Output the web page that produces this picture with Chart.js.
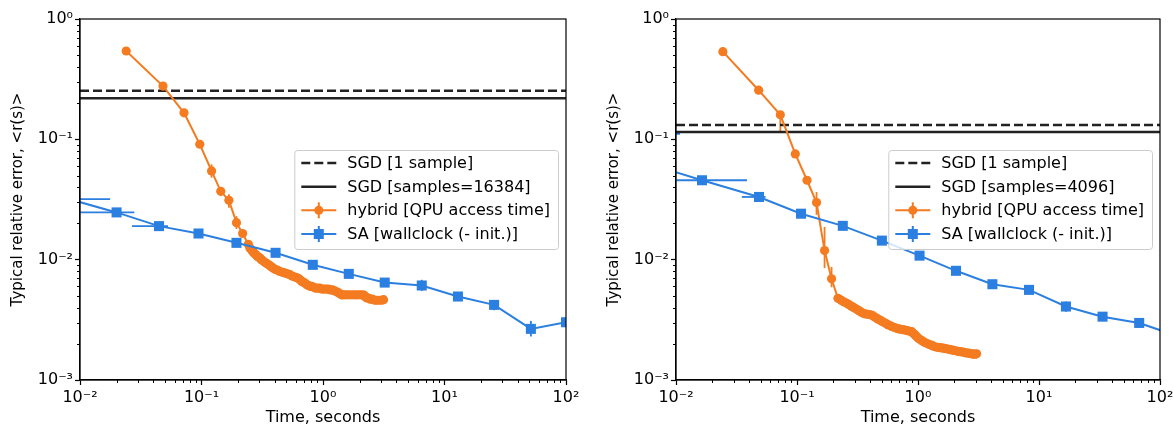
<!DOCTYPE html>
<html>
<head>
<meta charset="utf-8">
<script src="https://cdn.jsdelivr.net/npm/chart.js@4.4.1/dist/chart.umd.min.js"></script>
<style>
  html, body { margin: 0; padding: 0; background: #fff; }
  #wrap { position: relative; width: 1174px; height: 425px; }
  canvas { position: absolute; top: 0; }
</style>
</head>
<body>
<div id="wrap">
  <canvas id="left" width="587" height="425" style="left:0"></canvas>
  <canvas id="right" width="587" height="425" style="left:587px"></canvas>
</div>
<script>
// axis ticks
const xTickVals = [0.01, 0.1, 1, 10, 100];
const xTickLabels = ['10⁻²', '10⁻¹', '10⁰', '10¹', '10²'];
const yTickVals = [0.001, 0.01, 0.1, 1];
const yTickLabels = ['10⁻³', '10⁻²', '10⁻¹', '10⁰'];

// left panel
const leftSgdOne = 0.2535;
const leftSgdMany = 0.219;
const leftHybridX = [0.024, 0.0482, 0.0718, 0.0968, 0.121, 0.144, 0.168, 0.194, 0.218, 0.243,
  0.250, 0.259, 0.266, 0.272, 0.280, 0.287, 0.295, 0.303, 0.311, 0.320, 0.332, 0.344, 0.355, 0.366,
  0.378, 0.390, 0.405, 0.420, 0.438, 0.457, 0.476, 0.495, 0.515, 0.535, 0.557, 0.580, 0.603, 0.627,
  0.647, 0.668, 0.690, 0.711, 0.735, 0.760, 0.783, 0.807, 0.838, 0.870, 0.905, 0.944, 0.98, 1.02,
  1.06, 1.106, 1.15, 1.20, 1.25, 1.297, 1.34, 1.38, 1.42, 1.469, 1.53, 1.60, 1.69, 1.778, 1.86,
  1.95, 2.05, 2.15, 2.20, 2.25, 2.30, 2.36, 2.45, 2.55, 2.66, 2.77, 2.90, 3.04, 3.15];
const leftHybridY = [0.542, 0.277, 0.166, 0.091, 0.0546, 0.037, 0.0311, 0.0203, 0.0165, 0.0134,
  0.0125, 0.0120, 0.0116, 0.0113, 0.0110, 0.0107, 0.0105, 0.0103, 0.0100, 0.0098, 0.0095, 0.0093, 0.0091, 0.0089,
  0.0087, 0.0085, 0.0083, 0.0082, 0.0080, 0.0079, 0.0078, 0.0077, 0.0076, 0.0075, 0.0073, 0.0072, 0.0071, 0.0070,
  0.0068, 0.0066, 0.0065, 0.0064, 0.0062, 0.0061, 0.0060, 0.0060, 0.0059, 0.0058, 0.0058, 0.0058, 0.0057, 0.0057,
  0.0057, 0.0057, 0.0056, 0.0056, 0.0055, 0.0054, 0.0053, 0.0052, 0.0051, 0.0051, 0.0051, 0.0051, 0.0051, 0.0051, 0.0051,
  0.0051, 0.0051, 0.0051, 0.0050, 0.0049, 0.0048, 0.0048, 0.0047, 0.0047, 0.0046, 0.0046, 0.0046, 0.0046, 0.00465];
const leftSaX = [0.0081, 0.0200, 0.0447, 0.0945, 0.194, 0.407, 0.824, 1.63, 3.22, 6.50, 12.9, 25.6, 51.4, 100];
const leftSaY = [0.0319, 0.0247, 0.0190, 0.0165, 0.0138, 0.0114, 0.00906, 0.00762, 0.00645, 0.0061, 0.00494, 0.00421, 0.00266, 0.00302];
const leftHybridYErr = [[0.121, 0.048, 0.062], [0.144, 0.034, 0.040], [0.168, 0.027, 0.035], [0.194, 0.018, 0.023]];
const leftSaXErr = [[0.0319, 0.004, 0.0177], [0.0247, 0.006, 0.0280], [0.0190, 0.0268, 0.053]];
const leftSaYErr = [[6.5, 0.0055, 0.0068], [25.6, 0.0038, 0.0046], [51.4, 0.0023, 0.0031]];

// right panel
const rightSgdOne = 0.1315;
const rightSgdMany = 0.115;
const rightHybridX = [0.0244, 0.0482, 0.0728, 0.0968, 0.121, 0.145, 0.169, 0.193, 0.218,
  0.227, 0.235, 0.246, 0.258, 0.269, 0.280, 0.291, 0.302, 0.315, 0.328, 0.340, 0.353, 0.366, 0.380,
  0.397, 0.414, 0.430, 0.445, 0.465, 0.485, 0.505, 0.525, 0.547, 0.569, 0.592, 0.615, 0.640, 0.667,
  0.693, 0.720, 0.750, 0.782, 0.82, 0.855, 0.887, 0.918, 0.950, 0.978, 1.007, 1.05, 1.09, 1.13,
  1.18, 1.23, 1.28, 1.33, 1.38, 1.44, 1.50, 1.56, 1.62, 1.69, 1.76, 1.83, 1.90, 1.97, 2.05, 2.13,
  2.22, 2.31, 2.40, 2.50, 2.61, 2.70, 2.78, 2.87, 2.96, 3.05];
const rightHybridY = [0.535, 0.256, 0.160, 0.0757, 0.0457, 0.0298, 0.0119, 0.00693, 0.00478,
  0.00466, 0.00455, 0.00445, 0.00434, 0.00423, 0.00412, 0.00403, 0.00394, 0.00384, 0.00375, 0.00366, 0.00358, 0.00355, 0.00352,
  0.00350, 0.00347, 0.00338, 0.00330, 0.00322, 0.00315, 0.00307, 0.00300, 0.00293, 0.00287, 0.00282, 0.00277, 0.00273, 0.00269,
  0.00266, 0.00264, 0.00262, 0.00260, 0.00257, 0.00254, 0.00252, 0.00244, 0.00236, 0.00229, 0.00222, 0.00216, 0.00211, 0.00206,
  0.00202, 0.00198, 0.00195, 0.00192, 0.00189, 0.00187, 0.00186, 0.00185, 0.00184, 0.00182, 0.00181, 0.00179, 0.00178, 0.00176, 0.00175, 0.00173,
  0.00172, 0.00171, 0.00170, 0.00168, 0.00167, 0.00166, 0.00165, 0.00164, 0.00164, 0.00165];
const rightSaX = [0.00095, 0.0164, 0.0485, 0.108, 0.239, 0.503, 1.03, 2.06, 4.12, 8.27, 16.7, 33.5, 67.3, 135];
const rightSaY = [0.111, 0.0457, 0.0332, 0.0241, 0.0191, 0.0144, 0.0108, 0.00808, 0.00625, 0.00561, 0.00408, 0.00336, 0.00298, 0.00234];
const rightHybridYErr = [[0.0728, 0.117, 0.17], [0.145, 0.0236, 0.0365], [0.169, 0.0085, 0.0187], [0.193, 0.0059, 0.0087], [0.49, 0.0029, 0.0034], [0.52, 0.0029, 0.0033]];
const rightSaXErr = [[0.111, 0.0005, 0.0108], [0.0457, 0.005, 0.0386], [0.0332, 0.035, 0.055]];
const rightSaYErr = [[16.7, 0.0037, 0.0045]];

const legendLabels = {
  left: ['SGD [1 sample]', 'SGD [samples=16384]', 'hybrid [QPU access time]', 'SA [wallclock (- init.)]'],
  right: ['SGD [1 sample]', 'SGD [samples=4096]', 'hybrid [QPU access time]', 'SA [wallclock (- init.)]']
};

const orange = '#f47b20';
const blue = '#2b7fe0';
const dark = '#222222';
const fontFam = '"DejaVu Sans", sans-serif';

Chart.defaults.font.family = fontFam;
Chart.defaults.color = '#000';

const panels = {
  left: {hybridErr: leftHybridYErr, saXErr: leftSaXErr, saYErr: leftSaYErr},
  right: {hybridErr: rightHybridYErr, saXErr: rightSaXErr, saYErr: rightSaYErr}
};

function pts(xs, ys) {
  return xs.map((x, i) => ({x: x, y: ys[i]}));
}

function seg(ctx, x1, y1, x2, y2) {
  ctx.beginPath();
  ctx.moveTo(x1, y1);
  ctx.lineTo(x2, y2);
  ctx.stroke();
}

const panelDecor = {
  id: 'panelDecor',
  beforeDatasetsDraw(chart) {
    const p = panels[chart.canvas.id];
    const ctx = chart.ctx, a = chart.chartArea;
    const xs = chart.scales.x, ys = chart.scales.y;
    ctx.save();
    ctx.beginPath();
    ctx.rect(a.left, a.top, a.right - a.left, a.bottom - a.top);
    ctx.clip();
    ctx.lineWidth = 1.8;
    ctx.strokeStyle = orange;
    p.hybridErr.forEach(([x, lo, hi]) => {
      const px = xs.getPixelForValue(x);
      seg(ctx, px, ys.getPixelForValue(lo), px, ys.getPixelForValue(hi));
    });
    ctx.strokeStyle = blue;
    p.saYErr.forEach(([x, lo, hi]) => {
      const px = xs.getPixelForValue(x);
      seg(ctx, px, ys.getPixelForValue(lo), px, ys.getPixelForValue(hi));
    });
    p.saXErr.forEach(([y, lo, hi]) => {
      const py = ys.getPixelForValue(y);
      seg(ctx, xs.getPixelForValue(lo), py, xs.getPixelForValue(hi), py);
    });
    ctx.restore();
  },
  afterDatasetsDraw(chart) {
    const ctx = chart.ctx, a = chart.chartArea;
    const xs = chart.scales.x, ys = chart.scales.y;
    ctx.save();
    ctx.strokeStyle = '#000';
    ctx.lineWidth = 1;
    // minor ticks
    for (let d = -2; d <= 1; d++) {
      for (let k = 2; k <= 9; k++) {
        const px = Math.round(xs.getPixelForValue(k * Math.pow(10, d))) + 0.5;
        seg(ctx, px, a.bottom, px, a.bottom + 3);
      }
    }
    for (let d = -3; d <= -1; d++) {
      for (let k = 2; k <= 9; k++) {
        const py = Math.round(ys.getPixelForValue(k * Math.pow(10, d))) + 0.5;
        seg(ctx, a.left - 3, py, a.left, py);
      }
    }
    // frame
    ctx.lineWidth = 1.2;
    ctx.strokeRect(a.left, a.top, a.right - a.left, a.bottom - a.top);
    ctx.restore();
  },
  afterDraw(chart) {
    const labels = legendLabels[chart.canvas.id];
    const ctx = chart.ctx, a = chart.chartArea;
    ctx.save();
    ctx.font = '16px ' + fontFam;
    const tw = Math.max(...labels.map(l => ctx.measureText(l).width));
    const w = 53 + tw + 8, h = 99;
    const x0 = a.right - 8 - w, y0 = (a.top + a.bottom) / 2 - h / 2;
    ctx.fillStyle = 'rgba(255,255,255,0.8)';
    ctx.strokeStyle = '#cccccc';
    ctx.lineWidth = 1;
    ctx.beginPath();
    ctx.roundRect(x0 + 0.5, y0 + 0.5, w, h, 3);
    ctx.fill();
    ctx.stroke();
    const rows = [13, 36.7, 60.3, 84];
    const sx1 = x0 + 7, sx2 = x0 + 42, mx = x0 + 24.5;
    // dashed
    ctx.strokeStyle = dark;
    ctx.lineWidth = 2.5;
    ctx.setLineDash([9, 4]);
    seg(ctx, sx1, y0 + rows[0], sx2, y0 + rows[0]);
    ctx.setLineDash([]);
    seg(ctx, sx1, y0 + rows[1], sx2, y0 + rows[1]);
    // hybrid
    let yy = y0 + rows[2];
    ctx.strokeStyle = orange;
    ctx.fillStyle = orange;
    ctx.lineWidth = 2;
    seg(ctx, sx1, yy, sx2, yy);
    seg(ctx, mx, yy - 8, mx, yy + 8);
    ctx.beginPath();
    ctx.arc(mx, yy, 4.5, 0, Math.PI * 2);
    ctx.fill();
    // SA
    yy = y0 + rows[3];
    ctx.strokeStyle = blue;
    ctx.fillStyle = blue;
    seg(ctx, sx1, yy, sx2, yy);
    seg(ctx, mx, yy - 8, mx, yy + 8);
    ctx.fillRect(mx - 5, yy - 5, 10, 10);
    // text
    ctx.fillStyle = '#000';
    ctx.textBaseline = 'middle';
    ctx.textAlign = 'left';
    labels.forEach((l, i) => ctx.fillText(l, x0 + 53, y0 + rows[i] + 1));
    ctx.restore();
  }
};

function makePanel(id, sgdOne, sgdMany, hx, hy, sx, sy, padLeft, padRight) {
  return new Chart(document.getElementById(id), {
    type: 'line',
    data: {
      datasets: [{
        label: 'SGD [1 sample]',
        data: [{x: 0.01, y: sgdOne}, {x: 100, y: sgdOne}],
        borderColor: dark,
        borderWidth: 2.5,
        borderDash: [9, 4],
        pointRadius: 0,
        order: 3,
      }, {
        label: 'SGD [samples]',
        data: [{x: 0.01, y: sgdMany}, {x: 100, y: sgdMany}],
        borderColor: dark,
        borderWidth: 2.5,
        pointRadius: 0,
        order: 2,
      }, {
        label: 'hybrid [QPU access time]',
        data: pts(hx, hy),
        borderColor: orange,
        backgroundColor: orange,
        borderWidth: 2,
        pointStyle: 'circle',
        pointRadius: 4.6,
        pointBorderWidth: 0,
        order: 1,
      }, {
        label: 'SA [wallclock (- init.)]',
        data: pts(sx, sy),
        borderColor: blue,
        backgroundColor: blue,
        borderWidth: 2,
        pointStyle: 'rect',
        pointRadius: 7.1,
        pointBorderWidth: 0,
        order: 0,
      }]
    },
    options: {
      responsive: false,
      animation: false,
      devicePixelRatio: 1,
      clip: 0,
      layout: {padding: {left: padLeft, right: padRight, top: 19, bottom: 0}},
      plugins: {legend: {display: false}, tooltip: {enabled: false}},
      elements: {line: {tension: 0}},
      scales: {
        x: {
          type: 'logarithmic',
          min: 0.01,
          max: 100,
          afterBuildTicks: s => { s.ticks = xTickVals.map(v => ({value: v})); },
          afterFit: s => { s.height = 45; s.paddingLeft = 0; s.paddingRight = 0; },
          grid: {drawOnChartArea: false, drawTicks: true, tickLength: 5, tickWidth: 1.2, tickColor: '#000'},
          border: {display: true, color: '#000', width: 1.2},
          ticks: {
            callback: (v, i) => xTickLabels[i],
            font: {size: 16},
            color: '#000',
            padding: 3,
            maxRotation: 0,
            autoSkip: false
          },
          title: {display: true, text: 'Time, seconds', font: {size: 16, lineHeight: 1}, padding: {top: 0, bottom: -1}, color: '#000'}
        },
        y: {
          type: 'logarithmic',
          min: 0.001,
          max: 1,
          afterBuildTicks: s => { s.ticks = yTickVals.map(v => ({value: v})); },
          afterFit: s => { s.width = 80; s.paddingTop = 0; s.paddingBottom = 0; },
          grid: {drawOnChartArea: false, drawTicks: true, tickLength: 5, tickWidth: 1.2, tickColor: '#000'},
          border: {display: true, color: '#000', width: 1.2},
          ticks: {
            callback: (v, i) => yTickLabels[i],
            font: {size: 16},
            color: '#000',
            padding: 2,
            autoSkip: false
          },
          title: {display: true, text: 'Typical relative error, <r(s)>', font: {size: 15, lineHeight: 1}, padding: {top: 11, bottom: 0}, color: '#000'}
        }
      }
    },
    plugins: [panelDecor]
  });
}

makePanel('left', leftSgdOne, leftSgdMany, leftHybridX, leftHybridY, leftSaX, leftSaY, 0, 21);
makePanel('right', rightSgdOne, rightSgdMany, rightHybridX, rightHybridY, rightSaX, rightSaY, 9, 14);
</script>
</body>
</html>
